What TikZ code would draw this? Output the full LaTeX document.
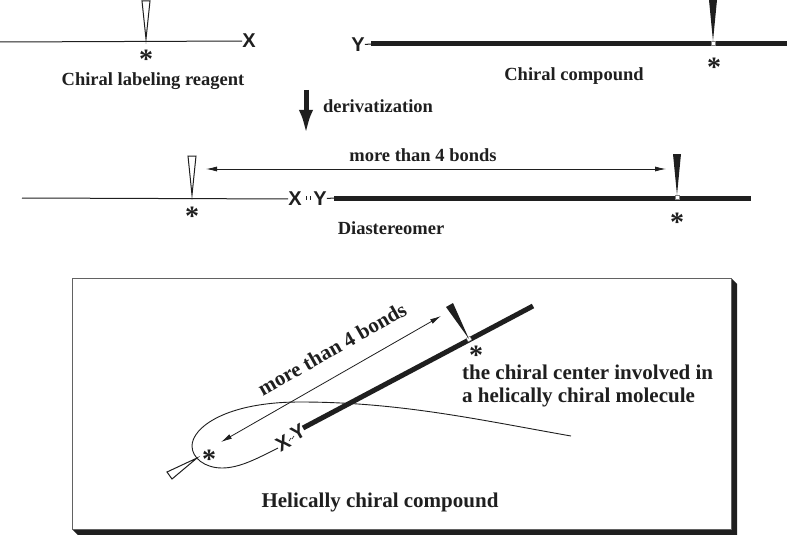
\documentclass[tikz,border=0pt]{standalone}
\usepackage{fontspec}
\setmainfont{Liberation Serif}
\newfontfamily\labelfont{Liberation Sans}
\usetikzlibrary{positioning,arrows.meta}
\definecolor{ink}{gray}{0.12}
\tikzset{
    caption/.style={font=\fontsize{18.5}{23}\selectfont\bfseries,text=ink,inner sep=0pt,align=left},
    wide caption/.style={caption,font=\fontsize{21}{23}\selectfont\bfseries},
    atom/.style={font=\fontsize{20}{20}\labelfont\bfseries,text=ink,inner sep=0pt},
    star/.style={font=\fontsize{28}{28}\selectfont\bfseries,text=ink,inner sep=0pt},
    thin bond/.style={draw=ink,line width=1pt},
    thick bond/.style={draw=ink,line width=5pt},
    open wedge/.style={draw=ink,fill=white,line width=1pt},
    solid wedge/.style={fill=ink},
    gap/.style={draw=gray,fill=white,line width=.4pt,minimum size=4pt,inner sep=0pt},
    tick/.style={draw=ink,line width=.6pt},
    span/.style={draw=ink,line width=.8pt,{Latex[length=11pt,width=5pt]}-{Latex[length=11pt,width=5pt]}}
}
\begin{document}
\begin{tikzpicture}[x=1pt,y=-1pt]
    \useasboundingbox (0,0) rectangle (788,535);
    %
    % reagent
    \coordinate (reagentL) at (0,42);
    \node[atom] (Xa) at (249,41) {X};
    \draw[thin bond] (reagentL) -- (Xa);
    \draw[open wedge] (142,1) -- (150,1) -- (146,39) -- cycle;
    \node[star] (stara) at (146,59) {*};
    \node[caption] (reagent) at (153,81) {Chiral labeling reagent};
    %
    % compound
    \node[atom] (Ya) at (358,45) {Y};
    \coordinate (compoundL) at (371,44);
    \coordinate (compoundR) at (787,44);
    \draw[thin bond] (Ya) -- (compoundL);
    \draw[thick bond] (compoundL) -- (compoundR);
    \node[gap] (gapa) at (713,43) {};
    \fill[solid wedge] (709,0) -- (717,0) -- (713,41) -- cycle;
    \node[star] (starb) at (714,67) {*};
    \node[caption] (compound) at (574,76) {Chiral compound};
    %
    % derivatization step
    \coordinate (stepa) at (306,90);
    \coordinate (stepb) at (306,135);
    \draw[ink,line width=5pt,-{Latex[length=25pt,width=14pt]}] (stepa) -- (stepb);
    \node[caption] (deriv) at (378,106) {derivatization};
    %
    % diastereomer
    \coordinate (diaL) at (22,198);
    \node[atom] (Xb) at (295,199) {X};
    \node[atom] (Yb) at (320,199) {Y};
    \coordinate (diaM) at (334,198);
    \coordinate (diaR) at (751,198);
    \draw[thin bond] (diaL) -- (Xb);
    \draw[tick] (306,196) -- (306,200) (310,196) -- (310,200);
    \draw[thin bond] (Yb) -- (diaM);
    \draw[thick bond] (diaM) -- (diaR);
    \draw[open wedge] (188,156) -- (196,156) -- (192,195) -- cycle;
    \node[gap] (gapb) at (677,197) {};
    \fill[solid wedge] (673,154) -- (681,154) -- (677,195) -- cycle;
    \node[star] (starc) at (192,216) {*};
    \node[star] (stard) at (677,222) {*};
    \coordinate (spanL) at (206,169);
    \coordinate (spanR) at (666,169);
    \draw[span] (spanL) -- (spanR);
    \node[caption] (bonds) at (423,155) {more than 4 bonds};
    \node[caption] (dia) at (391,228) {Diastereomer};
    %
    % box with shadow
    \fill[ink] (731,278) -- (737,284) -- (737,535) -- (78,535) -- (72,529) -- cycle;
    \draw[fill=white,draw=ink!70,line width=1pt] (72,278) rectangle (731,529);
    %
    % helix
    \node[atom,rotate=30] (Xc) at (283,443) {X};
    \node[atom,rotate=30] (Yc) at (298,432) {Y};
    \draw[tick] (289,441) -- (291,438) (292,439) -- (294,436);
    \coordinate (helixL) at (303,428);
    \coordinate (helixR) at (533,306);
    \coordinate (helixE) at (571,436);
    \draw[thick bond] (helixL) -- (helixR);
    \node[gap,rotate=28] (gapc) at (469,339) {};
    \fill[solid wedge] (446,307) -- (453,303) -- (469,339) -- cycle;
    \draw[draw=ink,line width=.9pt] (Xc.195) .. controls (258,458) and (240,468) .. (222,468)
        .. controls (205,468) and (192,458) .. (192,446)
        .. controls (192,428) and (225,402) .. (300,402)
        .. controls (400,402) and (480,420) .. (helixE);
    \draw[open wedge] (197,458) -- (167,472) -- (172,479) -- cycle;
    \node[star] (stare) at (209,459) {*};
    \node[star] (starf) at (476,355) {*};
    \coordinate (spanA) at (221,442);
    \coordinate (spanB) at (441,316);
    \draw[span] (spanA) -- (spanB);
    \node[wide caption,rotate=29.5] (bondsb) at (332,349) {more than 4 bonds};
    \node[wide caption,anchor=north west] (center) at (462,365) {the chiral center involved in\\a helically chiral molecule};
    \node[wide caption] (helical) at (380,502) {Helically chiral compound};
    %
\end{tikzpicture}
\end{document}
